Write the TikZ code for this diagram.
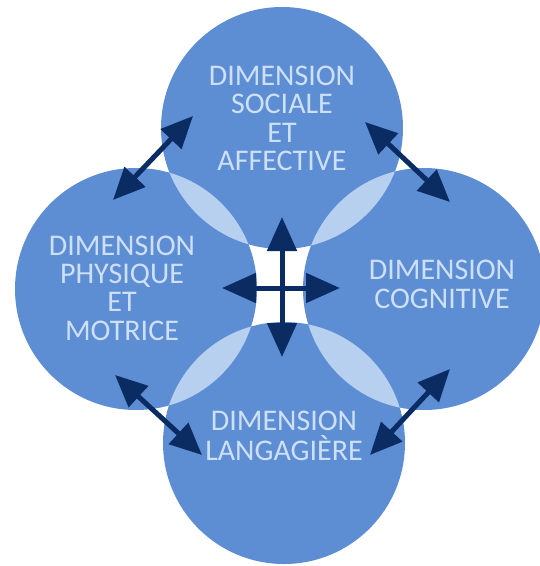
\documentclass[tikz,border=0pt]{standalone}
\usepackage{fontspec}
\setmainfont{Carlito}
\usetikzlibrary{arrows.meta}
\definecolor{disc}{RGB}{93,141,211}
\definecolor{lensc}{RGB}{184,208,240}
\definecolor{txt}{RGB}{205,224,248}
\definecolor{arr}{RGB}{10,44,99}
\begin{document}
\begin{tikzpicture}[x=1pt,y=-1pt,
  dim/.style={circle, fill=disc, minimum size=242pt, inner sep=0pt},
  lbl/.style={text=txt, font=\fontsize{30}{30}\selectfont, anchor=base, inner sep=0pt},
  dbl/.style={draw=arr, line width=5pt, {Triangle[length=32pt,width=28pt]}-{Triangle[length=32pt,width=28pt]}},
  cross/.style={draw=arr, line width=5pt, -{Triangle[length=34pt,width=29pt]}},
]
\useasboundingbox (0,0) rectangle (540,566);
\clip (0,0) rectangle (540,566);
% discs
\node[dim] (soc) at (282,128) {};
\node[dim] (phy) at (136,289) {};
\node[dim] (cog) at (424,289) {};
\node[dim] (lan) at (284,443) {};
% lenses
\begin{scope}
  \clip (soc.center) circle[radius=121pt];
  \fill[lensc] (phy.center) circle[radius=121pt];
  \fill[lensc] (cog.center) circle[radius=121pt];
\end{scope}
\begin{scope}
  \clip (lan.center) circle[radius=121pt];
  \fill[lensc] (phy.center) circle[radius=121pt];
  \fill[lensc] (cog.center) circle[radius=121pt];
\end{scope}
% labels
\node[lbl] (s1) at (282,85) {DIMENSION};
\node[lbl] (s2) at (282,113) {SOCIALE};
\node[lbl] (s3) at (282,142) {ET};
\node[lbl] (s4) at (282,170) {AFFECTIVE};
\node[lbl] (p1) at (122,255) {DIMENSION};
\node[lbl] (p2) at (122,283) {PHYSIQUE};
\node[lbl] (p3) at (122,311) {ET};
\node[lbl] (p4) at (122,340) {MOTRICE};
\node[lbl] (c1) at (442,279) {DIMENSION};
\node[lbl] (c2) at (442,308) {COGNITIVE};
\node[lbl] (l1) at (284,430) {DIMENSION};
\node[lbl] (l2) at (284,460) {LANGAGIÈRE};
% arrow ends
\coordinate (hub) at (282,288);
\coordinate (hn) at (282,217);
\coordinate (hs) at (282,357);
\coordinate (hw) at (222,288);
\coordinate (he) at (340,288);
\coordinate (tl1) at (193,116);
\coordinate (tl2) at (113,200);
\coordinate (tr1) at (365,122);
\coordinate (tr2) at (450,202);
\coordinate (bl1) at (115,375);
\coordinate (bl2) at (202,455);
\coordinate (br1) at (450,369);
\coordinate (br2) at (370,455);
% arrows
\draw[dbl] (tl2) -- (tl1);
\draw[dbl] (tr1) -- (tr2);
\draw[dbl] (bl1) -- (bl2);
\draw[dbl] (br2) -- (br1);
\draw[cross] (hub) -- (hn);
\draw[cross] (hub) -- (hs);
\draw[cross] (hub) -- (hw);
\draw[cross] (hub) -- (he);
\end{tikzpicture}
\end{document}
